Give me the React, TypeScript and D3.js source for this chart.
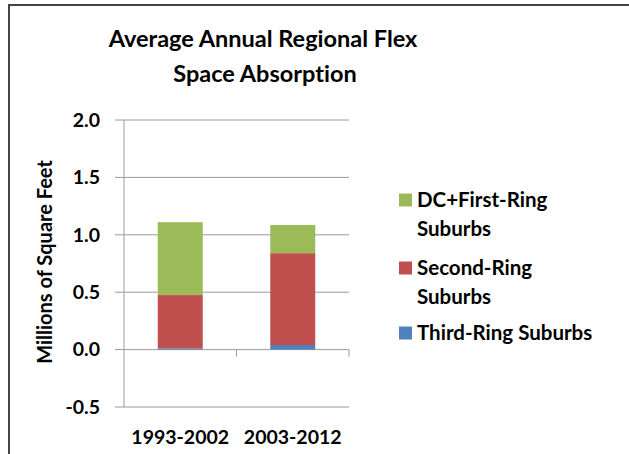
import React, { useRef, useEffect } from 'react';
import { select, scaleLinear, scaleBand, stack, range } from 'd3';

const periods = ['1993-2002', '2003-2012'];
const seriesNames = ['Third-Ring Suburbs', 'Second-Ring Suburbs', 'DC+First-Ring Suburbs'];
const thirdRing = [0.01, 0.04];
const secondRing = [0.465, 0.8];
const firstRing = [0.635, 0.245];
const yTicks = [-0.5, 0, 0.5, 1.0, 1.5, 2.0];
const colors = ['#4F81BD', '#C0504D', '#9BBB59'];
const legendLines = [['DC+First-Ring', 'Suburbs'], ['Second-Ring', 'Suburbs'], ['Third-Ring Suburbs']];

const App = () => {
  const ref = useRef<SVGSVGElement>(null);

  const width = 629;
  const height = 454;
  const margin = { top: 120, right: 280, bottom: 47, left: 124 };
  const innerWidth = width - margin.left - margin.right;
  const innerHeight = height - margin.top - margin.bottom;
  const font = 'Lato, "Open Sans", sans-serif';

  useEffect(() => {
    const svg = select(ref.current);
    svg.selectAll('*').remove();
    svg.style('font-variant-ligatures', 'none');

    const rows = periods.map((p, i) => ({
      period: p,
      third: thirdRing[i],
      second: secondRing[i],
      first: firstRing[i]
    }));
    const stacked = stack<any>().keys(['third', 'second', 'first'])(rows);

    const xScale = scaleBand().domain(periods).range([0, innerWidth]).paddingInner(0.6).paddingOuter(0.3);
    const yScale = scaleLinear().domain([-0.5, 2.0]).range([innerHeight, 0]);

    // frame
    svg.append('path')
      .attr('d', `M9,${height} V5 H${width}`)
      .attr('fill', 'none')
      .attr('stroke', '#444')
      .attr('stroke-width', 2);

    const g = svg.append('g').attr('transform', `translate(${margin.left}, ${margin.top})`);

    g.selectAll('.grid')
      .data(yTicks)
      .enter()
      .append('line')
      .attr('x1', -9)
      .attr('x2', innerWidth)
      .attr('y1', d => yScale(d))
      .attr('y2', d => yScale(d))
      .attr('stroke', '#9a9a9a')
      .attr('stroke-width', 1);

    g.append('line')
      .attr('x1', 0)
      .attr('x2', 0)
      .attr('y1', yScale(-0.5))
      .attr('y2', yScale(2.0))
      .attr('stroke', '#9a9a9a');

    // category ticks on the zero line
    const step = innerWidth / periods.length;
    g.selectAll('.ctick')
      .data(range(1, periods.length + 1))
      .enter()
      .append('line')
      .attr('x1', d => d * step)
      .attr('x2', d => d * step)
      .attr('y1', yScale(0))
      .attr('y2', yScale(0) + 7)
      .attr('stroke', '#9a9a9a');

    g.selectAll('.ylabel')
      .data(yTicks)
      .enter()
      .append('text')
      .attr('x', -24)
      .attr('y', d => yScale(d))
      .attr('dy', '0.35em')
      .attr('text-anchor', 'end')
      .attr('font-family', font)
      .attr('font-weight', 'bold')
      .attr('font-size', 19.5)
      .text(d => d.toFixed(1));

    g.selectAll('.xlabel')
      .data(periods)
      .enter()
      .append('text')
      .attr('x', d => xScale(d)! + xScale.bandwidth() / 2)
      .attr('y', innerHeight + 30)
      .attr('dy', '0.35em')
      .attr('text-anchor', 'middle')
      .attr('font-family', font)
      .attr('font-weight', 'bold')
      .attr('font-size', 19.5)
      .text(d => d);

    stacked.forEach((layer, i) => {
      g.selectAll(`.bar${i}`)
        .data(layer)
        .enter()
        .append('rect')
        .attr('x', d => xScale(d.data.period)!)
        .attr('width', xScale.bandwidth())
        .attr('y', d => yScale(d[1]))
        .attr('height', d => yScale(d[0]) - yScale(d[1]))
        .attr('fill', colors[i]);
    });

    // y axis title
    svg.append('text')
      .attr('transform', 'translate(52, 262) rotate(-90)')
      .attr('text-anchor', 'middle')
      .attr('font-family', font)
      .attr('font-weight', 'bold')
      .attr('font-size', 20)
      .text('Millions of Square Feet');

    // title
    const title = svg.append('text')
      .attr('text-anchor', 'middle')
      .attr('font-family', font)
      .attr('font-weight', 'bold')
      .attr('font-size', 23.5);
    title.append('tspan').attr('x', 263).attr('y', 47).text('Average Annual Regional Flex');
    title.append('tspan').attr('x', 265).attr('y', 82).text('Space Absorption');

    // legend
    const legendY = [200, 268, 333];
    const legend = svg.append('g');
    [2, 1, 0].forEach((s, i) => {
      legend.append('rect')
        .attr('x', 399)
        .attr('y', legendY[i] - 6.5)
        .attr('width', 13)
        .attr('height', 13)
        .attr('fill', colors[s]);
      legendLines[i].forEach((line, j) => {
        legend.append('text')
          .attr('x', 417)
          .attr('y', legendY[i] + j * 28.5)
          .attr('dy', '0.35em')
          .attr('font-family', font)
          .attr('font-weight', 'bold')
          .attr('font-size', 20.5)
          .text(line);
      });
    });
  }, []);

  return (
    <svg
      ref={ref}
      width={width}
      height={height}
      style={{ position: 'absolute', left: 0, top: 0, background: '#fff' }}
    ></svg>
  );
};

export default App;
